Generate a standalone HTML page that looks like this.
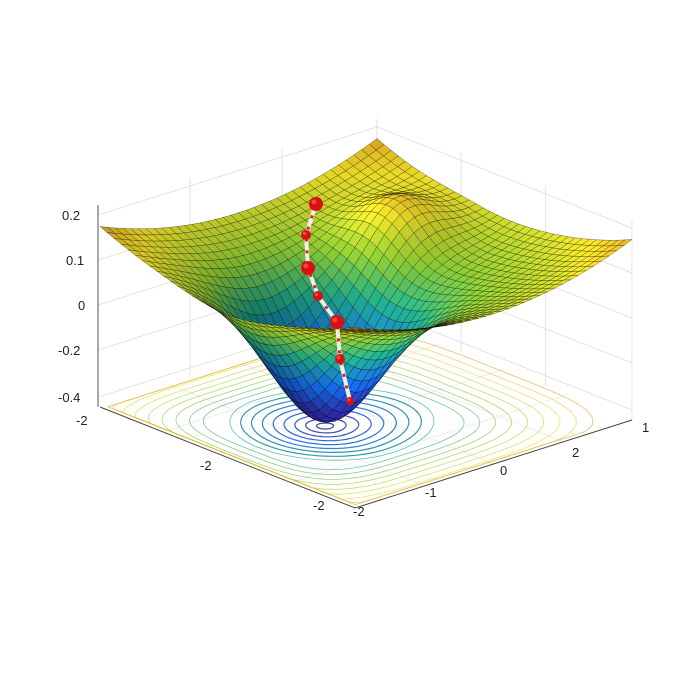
<!DOCTYPE html>
<html><head><meta charset="utf-8"><style>
body{margin:0;background:#fff}
svg{display:block}
text{font-family:"Liberation Sans",sans-serif;font-size:13px;fill:#222}
</style></head><body>
<svg id="s" width="690" height="690" viewBox="0 0 690 690"></svg>
<script>
const S=document.getElementById('s');let out='';
const C=[366,413],a=[138.5,-44],b=[-127.5,-50.5];
function fl(u,v){return [C[0]+u*a[0]+v*b[0],C[1]+u*a[1]+v*b[1]];}
function h(u,v){
 let base=120+60*(u*u+v*v)/2;
 let d=(u+0.3)*(u+0.3)+v*v;
 let f=base-118*Math.exp(-d/0.18)+38*Math.exp(-((u-0.55)**2+(v-0.35)**2)/0.08);
 return f;}
function P(u,v){const p=fl(u,v);return [p[0],p[1]-h(u,v)];}
const L=[100,407],R=[632,420],F=[355,508],B=[377,319];
const lv=[215,260,305,350,397];
for(const y of lv){out+=`<line x1="98" y1="${y}" x2="377" y2="${y-88}" stroke="#ddd" stroke-width="0.8"/><line x1="377" y1="${y-88}" x2="632" y2="${y+13}" stroke="#ddd" stroke-width="0.8"/>`;}
for(const t of [0,0.33,0.66,1]){let x=98+t*279,y=407-t*88;out+=`<line x1="${x}" y1="${y}" x2="${x}" y2="${y-200}" stroke="#ddd" stroke-width="0.8"/>`;
 let x2=377+t*255,y2=319+t*101;out+=`<line x1="${x2}" y1="${y2}" x2="${x2}" y2="${y2-200}" stroke="#ddd" stroke-width="0.8"/>`;}
for(let t=-0.5;t<=0.6;t+=0.5){let p1=fl(t,-1),p2=fl(t,1);out+=`<line x1="${p1[0]}" y1="${p1[1]}" x2="${p2[0]}" y2="${p2[1]}" stroke="#eee"/>`;p1=fl(-1,t);p2=fl(1,t);out+=`<line x1="${p1[0]}" y1="${p1[1]}" x2="${p2[0]}" y2="${p2[1]}" stroke="#eee"/>`;}
out+=`<polyline points="${L} ${F} ${R}" fill="none" stroke="#444" stroke-width="1"/>`;
out+=`<line x1="98" y1="407" x2="98" y2="205" stroke="#555"/>`;
function col(t){
 const st=[[0,[40,40,150]],[0.22,[20,100,220]],[0.45,[30,165,130]],[0.65,[140,200,50]],[0.85,[235,220,40]],[0.93,[225,185,35]],[1,[210,130,30]]];
 t=Math.max(0,Math.min(1,t));for(let i=1;i<st.length;i++){if(t<=st[i][0]){let [t0,c0]=st[i-1],[t1,c1]=st[i];let k=(t-t0)/(t1-t0);return c0.map((c,j)=>Math.round(c+(c1[j]-c)*k));}}return st[st.length-1][1];}
for(let i=0;i<18;i++){let r=0.04+i*0.055;let n=8+i*0.6;let pts=[];
 for(let k=0;k<=80;k++){let th=k/80*2*Math.PI;let c=Math.cos(th),s=Math.sin(th);let m=Math.pow(Math.pow(Math.abs(c),n/4)+Math.pow(Math.abs(s),n/4),-4/n);
 let u=-0.3+r*c*(i>8?m:1)*(1+0.3*(c>0)),v=r*s*(i>8?m:1)*1.1;if(u>0.97)u=0.97;if(u<-0.97)u=-0.97;if(v>0.97)v=0.97;if(v<-0.97)v=-0.97;pts.push(fl(u,v).map(x=>x.toFixed(1)).join(','));}
 let c=col(i/17*0.95);out+=`<polyline points="${pts.join(' ')}" fill="none" stroke="rgb(${c})" stroke-width="${i<8?1.2:0.8}" opacity="${i<8?0.9:0.7}"/>`;}
const N=36,q=[];
for(let i=0;i<N;i++)for(let j=0;j<N;j++){let u0=-1+2*i/N,u1=-1+2*(i+1)/N,v0=-1+2*j/N,v1=-1+2*(j+1)/N;
 let um=(u0+u1)/2,vm=(v0+v1)/2;let hm=h(um,vm);let depth=fl(um,vm)[1];
 let dhu=(h(um+0.01,vm)-h(um-0.01,vm))/0.02,dhv=(h(um,vm+0.01)-h(um,vm-0.01))/0.02;
 let sh=1+0.0012*(dhu*0.6+dhv*-0.8);sh=Math.max(0.7,Math.min(1.12,sh));
 q.push([depth,[P(u0,v0),P(u1,v0),P(u1,v1),P(u0,v1)],hm,sh]);}
q.sort((x,y)=>x[0]-y[0]);
for(const [d,p,hm,sh] of q){let t=(hm-25)/160;let c=col(t);c=c.map(x=>Math.min(255,Math.round(x*sh)));
 out+=`<polygon points="${p.map(x=>x[0].toFixed(1)+','+x[1].toFixed(1)).join(' ')}" fill="rgb(${c})" stroke="rgba(0,0,0,0.55)" stroke-width="0.5"/>`;}
const pp=[[316,204],[306,235],[308,268],[318,296],[337,322],[340,359],[350,401]];
let d='M'+pp.map(p=>p.join(',')).join(' L');
out+=`<path d="${d}" fill="none" stroke="#f4eee8" stroke-width="4" stroke-linejoin="round"/>`;
out+=`<path d="${d}" fill="none" stroke="#d22" stroke-width="3" stroke-dasharray="3 9"/>`;
const rs=[7,5,7,5,7,5,4];
pp.forEach((p,i)=>{out+=`<circle cx="${p[0]}" cy="${p[1]}" r="${rs[i]}" fill="#d81010"/><circle cx="${p[0]-rs[i]*0.3}" cy="${p[1]-rs[i]*0.3}" r="${rs[i]*0.35}" fill="#ff6060" opacity="0.7"/>`;});
const lab=[["0.2",62,220],["0.1",66,265],["0",78,310],["-0.2",58,355],["-0.4",58,402],["-2",76,425],["-2",200,470],["-2",313,510],["-2",353,516],["-1",425,497],["0",500,475],["2",572,457],["1",642,432]];
for(const [t,x,y] of lab)out+=`<text x="${x}" y="${y}">${t}</text>`;
S.innerHTML=out;
</script>
</body></html>
